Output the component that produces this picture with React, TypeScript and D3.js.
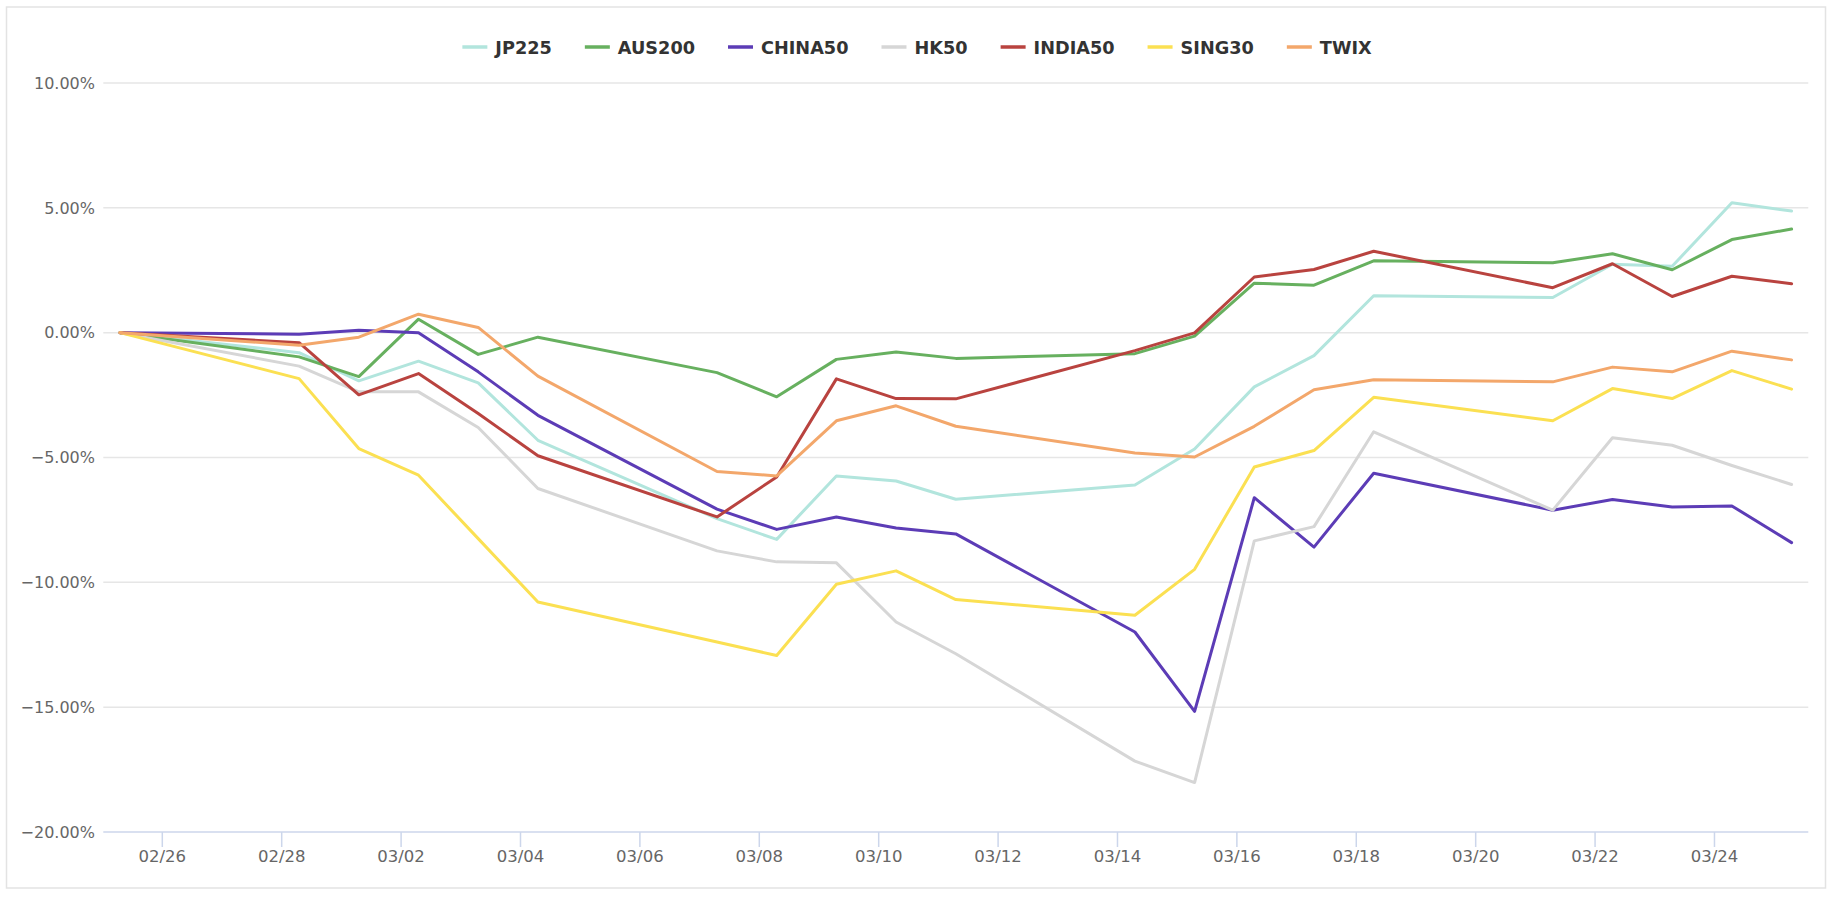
import React, { useEffect, useRef } from "react";
import * as d3 from "d3";

const dates = [
  "2022-02-25", "2022-02-28", "2022-03-01", "2022-03-02", "2022-03-03", "2022-03-04",
  "2022-03-07", "2022-03-08", "2022-03-09", "2022-03-10", "2022-03-11",
  "2022-03-14", "2022-03-15", "2022-03-16", "2022-03-17", "2022-03-18",
  "2022-03-21", "2022-03-22", "2022-03-23", "2022-03-24", "2022-03-25",
];

const seriesNames = ["JP225", "AUS200", "CHINA50", "HK50", "INDIA50", "SING30", "TWIX"];
const seriesColors = ["#b2e5dd", "#67b05f", "#5c3cb6", "#d6d6d6", "#b9433f", "#fbe052", "#f3a76b"];

const jp225 = [0, -0.8, -1.93, -1.14, -2.01, -4.31, -7.45, -8.28, -5.74, -5.94, -6.67, -6.1, -4.66, -2.17, -0.92, 1.48, 1.41, 2.74, 2.66, 5.2, 4.87];
const aus200 = [0, -0.97, -1.76, 0.54, -0.87, -0.18, -1.6, -2.57, -1.07, -0.77, -1.03, -0.84, -0.14, 1.98, 1.9, 2.88, 2.8, 3.16, 2.52, 3.73, 4.15];
const china50 = [0, -0.06, 0.1, 0.0, -1.57, -3.31, -7.07, -7.88, -7.38, -7.82, -8.06, -11.99, -15.17, -6.61, -8.59, -5.63, -7.11, -6.68, -6.98, -6.94, -8.41];
const hk50 = [0, -1.34, -2.37, -2.37, -3.8, -6.24, -8.74, -9.18, -9.22, -11.59, -12.86, -17.16, -18.02, -8.34, -7.77, -3.97, -7.11, -4.21, -4.51, -5.32, -6.08];
const india50 = [0, -0.4, -2.49, -1.64, -3.24, -4.93, -7.38, -5.78, -1.85, -2.64, -2.65, -0.72, -0.01, 2.23, 2.53, 3.26, 1.8, 2.76, 1.45, 2.26, 1.96];
const sing30 = [0, -1.84, -4.64, -5.71, -8.25, -10.79, -12.39, -12.93, -10.08, -9.54, -10.69, -11.32, -9.48, -5.38, -4.72, -2.59, -3.53, -2.24, -2.64, -1.52, -2.26];
const twix = [0, -0.5, -0.18, 0.74, 0.21, -1.74, -5.56, -5.74, -3.53, -2.93, -3.75, -4.82, -4.98, -3.75, -2.29, -1.89, -1.97, -1.38, -1.57, -0.74, -1.09];

const seriesValues = [jp225, aus200, china50, hk50, india50, sing30, twix];

const yTicks = [10, 5, 0, -5, -10, -15, -20];
const xTickLabels = ["02/26", "02/28", "03/02", "03/04", "03/06", "03/08", "03/10", "03/12", "03/14", "03/16", "03/18", "03/20", "03/22", "03/24"];

const W = 1834;
const H = 900;
const FONT = "'DejaVu Sans', Verdana, sans-serif";

export default function App() {
  const ref = useRef<SVGSVGElement | null>(null);

  useEffect(() => {
    const svg = d3.select(ref.current);
    svg.selectAll("*").remove();

    const plotLeft = 103.3;
    const plotRight = 1808.3;
    const plotTop = 83;
    const plotBottom = 832;

    const parse = (s: string) => new Date(s + "T07:00:00Z");
    const times = dates.map(parse);
    const tMin = +times[0];
    const tMax = +times[times.length - 1];
    const pad = (tMax - tMin) * 0.01;

    const x = d3.scaleUtc().domain([new Date(tMin - pad), new Date(tMax + pad)]).range([plotLeft, plotRight]);
    const y = d3.scaleLinear().domain([-20, 10]).range([plotBottom, plotTop]);

    // outer border
    svg.append("rect")
      .attr("x", 6.5).attr("y", 7).attr("width", 1819).attr("height", 881)
      .attr("fill", "#ffffff").attr("stroke", "#e3e3e3").attr("stroke-width", 1.5);

    // gridlines
    const grid = svg.append("g");
    yTicks.forEach((t) => {
      if (t === -20) return;
      grid.append("line")
        .attr("x1", plotLeft).attr("x2", plotRight)
        .attr("y1", y(t)).attr("y2", y(t))
        .attr("stroke", "#e6e6e6").attr("stroke-width", 1.5);
    });

    // y labels
    const fmt = d3.format(".2f");
    yTicks.forEach((t) => {
      svg.append("text")
        .attr("x", 95).attr("y", y(t))
        .attr("dy", "0.36em")
        .attr("text-anchor", "end")
        .attr("font-family", FONT).attr("font-size", 16)
        .attr("fill", "#666666")
        .text(fmt(t).replace("-", "\u2212") + "%");
    });

    // x axis line
    svg.append("line")
      .attr("x1", plotLeft).attr("x2", plotRight)
      .attr("y1", plotBottom).attr("y2", plotBottom)
      .attr("stroke", "#ccd6eb").attr("stroke-width", 1.5);

    const tickDates = xTickLabels.map((l) => new Date(`2022-${l.replace("/", "-")}T00:00:00Z`));
    tickDates.forEach((d, i) => {
      const tx = x(d);
      svg.append("line")
        .attr("x1", tx).attr("x2", tx)
        .attr("y1", plotBottom).attr("y2", plotBottom + 15)
        .attr("stroke", "#ccd6eb").attr("stroke-width", 1.5);
      svg.append("text")
        .attr("x", tx).attr("y", 862)
        .attr("text-anchor", "middle")
        .attr("font-family", FONT).attr("font-size", 16.5)
        .attr("fill", "#666666")
        .text(xTickLabels[i]);
    });

    // lines
    const line = d3.line<number>()
      .x((_, i) => x(times[i]))
      .y((v) => y(v));

    const lines = svg.append("g");
    seriesValues.forEach((vals, si) => {
      lines.append("path")
        .attr("d", line(vals) as string)
        .attr("fill", "none")
        .attr("stroke", seriesColors[si])
        .attr("stroke-width", 3)
        .attr("stroke-linejoin", "round")
        .attr("stroke-linecap", "round");
    });

    // legend
    const legend = svg.append("g");
    const symW = 25;
    const symPad = 8;
    const itemGap = 33;
    const legendY = 47;
    const items: { g: any; w: number }[] = [];
    seriesNames.forEach((name, si) => {
      const g = legend.append("g");
      g.append("line")
        .attr("x1", 0).attr("x2", symW)
        .attr("y1", legendY).attr("y2", legendY)
        .attr("stroke", seriesColors[si]).attr("stroke-width", 3.5);
      const txt = g.append("text")
        .attr("x", symW + symPad).attr("y", legendY)
        .attr("dy", "0.37em")
        .attr("font-family", FONT).attr("font-size", 17.7)
        .attr("font-weight", "bold")
        .attr("fill", "#333333")
        .text(name);
      const tw = (txt.node() as SVGTextElement).getComputedTextLength();
      items.push({ g, w: symW + symPad + tw });
    });
    const total = items.reduce((a, b) => a + b.w, 0) + itemGap * (items.length - 1);
    let cx = W / 2 - total / 2;
    items.forEach((it) => {
      it.g.attr("transform", `translate(${cx},0)`);
      cx += it.w + itemGap;
    });
  }, []);

  return (
    <svg
      ref={ref}
      width={W}
      height={H}
      style={{ position: "absolute", left: 0, top: 0, background: "#ffffff" }}
    />
  );
}
